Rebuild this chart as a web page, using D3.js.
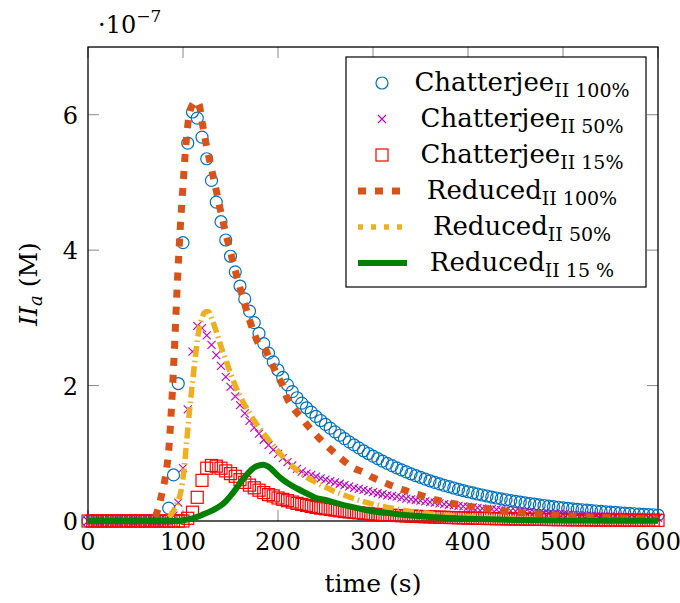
<!DOCTYPE html>
<html><head><meta charset="utf-8">
<script src="https://cdn.jsdelivr.net/npm/d3@7"></script>
<style>html,body{margin:0;padding:0;background:#fff}svg{display:block}
text{font-family:"DejaVu Serif", serif}
</style>
</head><body><svg id="c" width="680" height="603"></svg>
<script>
// ---------- DATA ----------
const sampleTimes = [0,5,10,15,20,25,30,35,40,45,50,55,60,65,70,75,80,85,90,95,100,105,110,115,120,125,130,135,140,145,150,155,160,165,170,175,180,185,190,195,200,205,210,215,220,225,230,235,240,245,250,255,260,265,270,275,280,285,290,295,300,305,310,315,320,325,330,335,340,345,350,355,360,365,370,375,380,385,390,395,400,405,410,415,420,425,430,435,440,445,450,455,460,465,470,475,480,485,490,495,500,505,510,515,520,525,530,535,540,545,550,555,560,565,570,575,580,585,590,595,600];
const chatterjee100 = [0,0,0,0,0,0,0,0,0,0,0,0,0,0,0,0,0,
 0.19,0.68,2.03,4.11,5.58,6.04,5.95,5.67,5.35,5.03,4.71,4.42,4.15,3.91,3.68,3.47,3.28,3.10,2.93,2.77,2.62,2.48,2.35,2.23,2.12,2.01,1.91,1.82,
 1.74,1.672,1.607,1.544,1.484,1.426,1.371,1.317,1.266,1.216,1.169,1.123,1.080,1.037,0.997,0.958,0.921,0.885,0.850,0.817,0.785,0.755,0.725,0.697,0.670,0.644,0.619,0.594,0.571,0.549,0.527,0.507,0.487,0.468,0.450,0.432,0.415,0.399,0.384,0.369,0.354,0.340,0.327,0.314,0.302,0.290,0.279,0.268,0.258,0.248,0.238,0.229,0.220,0.211,0.203,0.195,0.187,0.180,0.173,0.166,0.160,0.154,0.148,0.142,0.136,0.131,0.126,0.121,0.116,0.112,0.107,0.103,0.099,0.095,0.092,0.088];
const chatterjee50 = [0,0,0,0,0,0,0,0,0,0,0,0,0,0,0,0,0,0,
 0.08,0.27,0.78,1.65,2.50,2.88,2.85,2.74,2.60,2.45,2.29,2.13,1.98,1.84,1.71,1.59,1.48,1.38,1.29,1.20,1.12,1.05,0.99,0.93,0.87,0.82,0.77,
 0.73,0.70,0.68,0.655,0.63,0.61,0.59,0.57,0.55,0.53,0.51,0.49,0.475,0.46,0.44,0.425,0.41,0.395,0.38,0.37,0.36,0.345,0.33,0.32,0.31,0.30,0.29,0.28,0.27,0.26,0.25,0.24,0.23,0.225,0.215,0.21,0.20,0.195,0.185,0.18,0.175,0.17,0.16,0.155,0.15,0.145,0.14,0.135,0.13,0.125,0.12,0.116,0.112,0.108,0.104,0.10,0.097,0.093,0.09,0.087,0.084,0.081,0.078,0.075,0.072,0.07,0.067,0.065,0.063,0.06,0.058,0.056,0.054,0.052,0.05,0.048];
const chatterjee15 = [0,0,0,0,0,0,0,0,0,0,0,0,0,0,0,0,0,0,0,0,0,
 0.04,0.13,0.35,0.6,0.78,0.82,0.81,0.78,0.74,0.70,0.66,0.61,0.57,0.53,0.49,0.455,0.42,0.39,0.37,0.34,0.32,0.30,0.28,0.26,0.245,0.23,0.215,0.20,0.19,0.18,0.17,0.16,0.15,0.14,0.133,0.126,0.12,0.113,0.107,0.10,
 0.096,0.092,0.088,0.085,0.081,0.078,0.075,0.072,0.069,0.066,0.063,0.061,0.058,0.056,0.054,0.052,0.05,0.048,0.046,0.044,
 0.042,0.04,0.039,0.037,0.036,0.034,0.033,0.032,0.03,0.029,0.028,0.027,0.026,0.025,0.024,0.023,0.022,0.021,0.02,0.02,
 0.019,0.018,0.018,0.017,0.016,0.016,0.015,0.015,0.014,0.014,0.013,0.013,0.012,0.012,0.011,0.011,0.011,0.01,0.01,0.01];

const reduced100T = [0,60,65,70,74,78,82,85,88,91,94,97,100,103,106,110,114,117,120,125,130,135,140,145,150,155,160,165,170,175,180,185,190,195,200,205,210,215,220,225,230,235,240,245,250,260,270,280,290,300,310,320,330,340,350,360,370,380,390,400,420,440,460,480,500,520,540,560,580,600];
const reduced100 = [0,0,0.02,0.05,0.19,0.42,0.7,1.05,1.7,2.55,3.5,4.3,4.95,5.55,5.95,6.15,6.2,6.15,5.9,5.52,5.2,4.88,4.55,4.25,3.97,3.7,3.44,3.2,2.97,2.77,2.61,2.58,2.43,2.28,2.13,2.0,1.80,1.69,1.60,1.52,1.43,1.35,1.27,1.2,1.13,1.0,0.88,0.78,0.72,0.64,0.58,0.52,0.47,0.42,0.38,0.335,0.30,0.27,0.245,0.22,0.18,0.145,0.12,0.098,0.08,0.065,0.053,0.043,0.035,0.028];
const reduced50T = [0,75,80,85,90,95,98,101,104,107,110,113,116,120,124,127,130,135,140,145,150,155,160,165,170,175,180,185,190,195,200,210,220,230,240,250,260,270,280,290,300,310,320,330,340,350,360,380,400,420,440,460,480,500,550,600];
const reduced50 = [0,0,0.01,0.05,0.15,0.3,0.45,0.75,1.2,1.65,2.05,2.42,2.76,3.0,3.09,3.09,3.0,2.8,2.58,2.38,2.18,2.0,1.85,1.71,1.6,1.48,1.38,1.29,1.2,1.12,1.03,0.88,0.75,0.65,0.57,0.5,0.435,0.38,0.33,0.285,0.25,0.215,0.19,0.165,0.14,0.125,0.108,0.082,0.062,0.047,0.035,0.027,0.02,0.015,0.008,0.004];
const reduced15T = [0,95,100,110,120,130,140,145,150,155,160,165,170,175,180,185,190,195,200,205,210,220,230,240,250,260,270,280,290,300,320,340,360,380,400,450,500,550,600];
const reduced15 = [0,0,0.01,0.04,0.09,0.15,0.23,0.29,0.37,0.46,0.56,0.65,0.73,0.79,0.82,0.83,0.8,0.74,0.67,0.61,0.56,0.48,0.41,0.34,0.31,0.27,0.23,0.20,0.17,0.145,0.11,0.08,0.06,0.045,0.034,0.016,0.008,0.004,0.002];

const xTicks = [0,100,200,300,400,500,600];
const yTicks = [0,2,4,6];
const legendNames = ["Chatterjee","Chatterjee","Chatterjee","Reduced","Reduced","Reduced"];
const legendSubs = ["II 100%","II 50%","II 15%","II 100%","II 50%","II 15 %"];

// ---------- DRAW ----------
const svg = d3.select("#c");
const x = d3.scaleLinear().domain([0,600]).range([88,658]);
const y = d3.scaleLinear().domain([0,7]).range([521,47]);
const C = {blue:"#0072BD", orange:"#D95319", yellow:"#EDB120", mag:"#BF00BF", red:"#FF0000", green:"#008000"};

// frame & ticks
const axisG = svg.append("g");
const tickLen = 11;
xTicks.forEach(t => {
  axisG.append("line").attr("x1",x(t)).attr("x2",x(t)).attr("y1",y(0)).attr("y2",y(0)-tickLen).attr("stroke","#888").attr("stroke-width",1);
  axisG.append("line").attr("x1",x(t)).attr("x2",x(t)).attr("y1",y(7)).attr("y2",y(7)+tickLen).attr("stroke","#888").attr("stroke-width",1);
  axisG.append("text").attr("x",x(t)).attr("y",550).attr("text-anchor","middle").attr("font-size",24).text(t);
});
yTicks.forEach(t => {
  axisG.append("line").attr("x1",x(0)).attr("x2",x(0)+tickLen).attr("y1",y(t)).attr("y2",y(t)).attr("stroke","#888").attr("stroke-width",1);
  axisG.append("line").attr("x1",x(600)).attr("x2",x(600)-tickLen).attr("y1",y(t)).attr("y2",y(t)).attr("stroke","#888").attr("stroke-width",1);
  axisG.append("text").attr("x",78).attr("y",y(t)+9).attr("text-anchor","end").attr("font-size",24).text(t);
});
axisG.append("rect").attr("x",x(0)).attr("y",y(7)).attr("width",x(600)-x(0)).attr("height",y(0)-y(7))
  .attr("fill","none").attr("stroke","#000").attr("stroke-width",1.3);

// exponent label
const ex = svg.append("text").attr("x",98).attr("y",33).attr("font-size",24);
ex.append("tspan").text("\u00B710");
ex.append("tspan").attr("font-size",17).attr("dy",-11).text("\u22127");

// axis labels
svg.append("text").attr("x",373).attr("y",592).attr("text-anchor","middle").attr("font-size",25).text("time (s)");
const yl = svg.append("text").attr("transform","translate(37,284) rotate(-90)").attr("text-anchor","middle").attr("font-size",25);
yl.append("tspan").attr("font-style","italic").text("II");
yl.append("tspan").attr("font-style","italic").attr("font-size",18).attr("dy",5).text("a");
yl.append("tspan").attr("dy",-5).text(" (M)");

// series
const pts = (vals) => vals.map((v,i)=>[sampleTimes[i], v]);
const line = d3.line().x(d=>x(d[0])).y(d=>y(d[1])).curve(d3.curveMonotoneX);
const zip = (ts, vs) => ts.map((t,i)=>[t, vs[i]]);

function circles(g, data){ g.selectAll("circle").data(data).join("circle").attr("cx",d=>x(d[0])).attr("cy",d=>y(d[1])).attr("r",6).attr("fill","none").attr("stroke",C.blue).attr("stroke-width",1.2); }
function crosses(g, data){ g.selectAll("path").data(data).join("path").attr("d",d=>{const cx=x(d[0]),cy=y(d[1]),s=4;return `M${cx-s},${cy-s}L${cx+s},${cy+s}M${cx-s},${cy+s}L${cx+s},${cy-s}`;}).attr("stroke",C.mag).attr("stroke-width",1.1).attr("fill","none"); }
function squares(g, data){ g.selectAll("rect").data(data).join("rect").attr("x",d=>x(d[0])-6).attr("y",d=>y(d[1])-6).attr("width",12).attr("height",12).attr("fill","none").attr("stroke",C.red).attr("stroke-width",1.2); }

circles(svg.append("g"), pts(chatterjee100));
crosses(svg.append("g"), pts(chatterjee50));
squares(svg.append("g"), pts(chatterjee15));

const styles = [
  {color:C.orange, w:7, dash:"8,9"},
  {color:C.yellow, w:5.5, dash:"11,4,1.5,4"},
  {color:C.green, w:6, dash:null}
];
[[reduced100T,reduced100],[reduced50T,reduced50],[reduced15T,reduced15]].forEach((s,i)=>{
  svg.append("path").datum(zip(s[0],s[1])).attr("d",line).attr("fill","none")
    .attr("stroke",styles[i].color).attr("stroke-width",styles[i].w)
    .attr("stroke-dasharray",styles[i].dash);
});

// legend
const lg = svg.append("g");
lg.append("rect").attr("x",346).attr("y",57).attr("width",300).attr("height",230).attr("fill","#fff").attr("stroke","#000").attr("stroke-width",1.2);
legendNames.forEach((nm,i)=>{
  const cy = 83 + i*36;
  const g = lg.append("g");
  if(i===0) g.append("circle").attr("cx",382).attr("cy",cy).attr("r",6).attr("fill","none").attr("stroke",C.blue).attr("stroke-width",1.2);
  if(i===1) g.append("path").attr("d",`M378,${cy-4}L386,${cy+4}M378,${cy+4}L386,${cy-4}`).attr("stroke",C.mag).attr("stroke-width",1.1);
  if(i===2) g.append("rect").attr("x",376).attr("y",cy-6).attr("width",12).attr("height",12).attr("fill","none").attr("stroke",C.red).attr("stroke-width",1.2);
  if(i>=3){ const st = styles[i-3];
    g.append("line").attr("x1",358).attr("x2",407).attr("y1",cy).attr("y2",cy).attr("stroke",st.color).attr("stroke-width",st.w).attr("stroke-dasharray", i===3?"8,9":(i===4?"5,8":null));
  }
  const t = lg.append("text").attr("x",522).attr("y",cy+8).attr("text-anchor","middle").attr("font-size",26);
  t.append("tspan").text(nm);
  t.append("tspan").attr("font-size",19).attr("dy",6).text(legendSubs[i]);
});
</script></body></html>
